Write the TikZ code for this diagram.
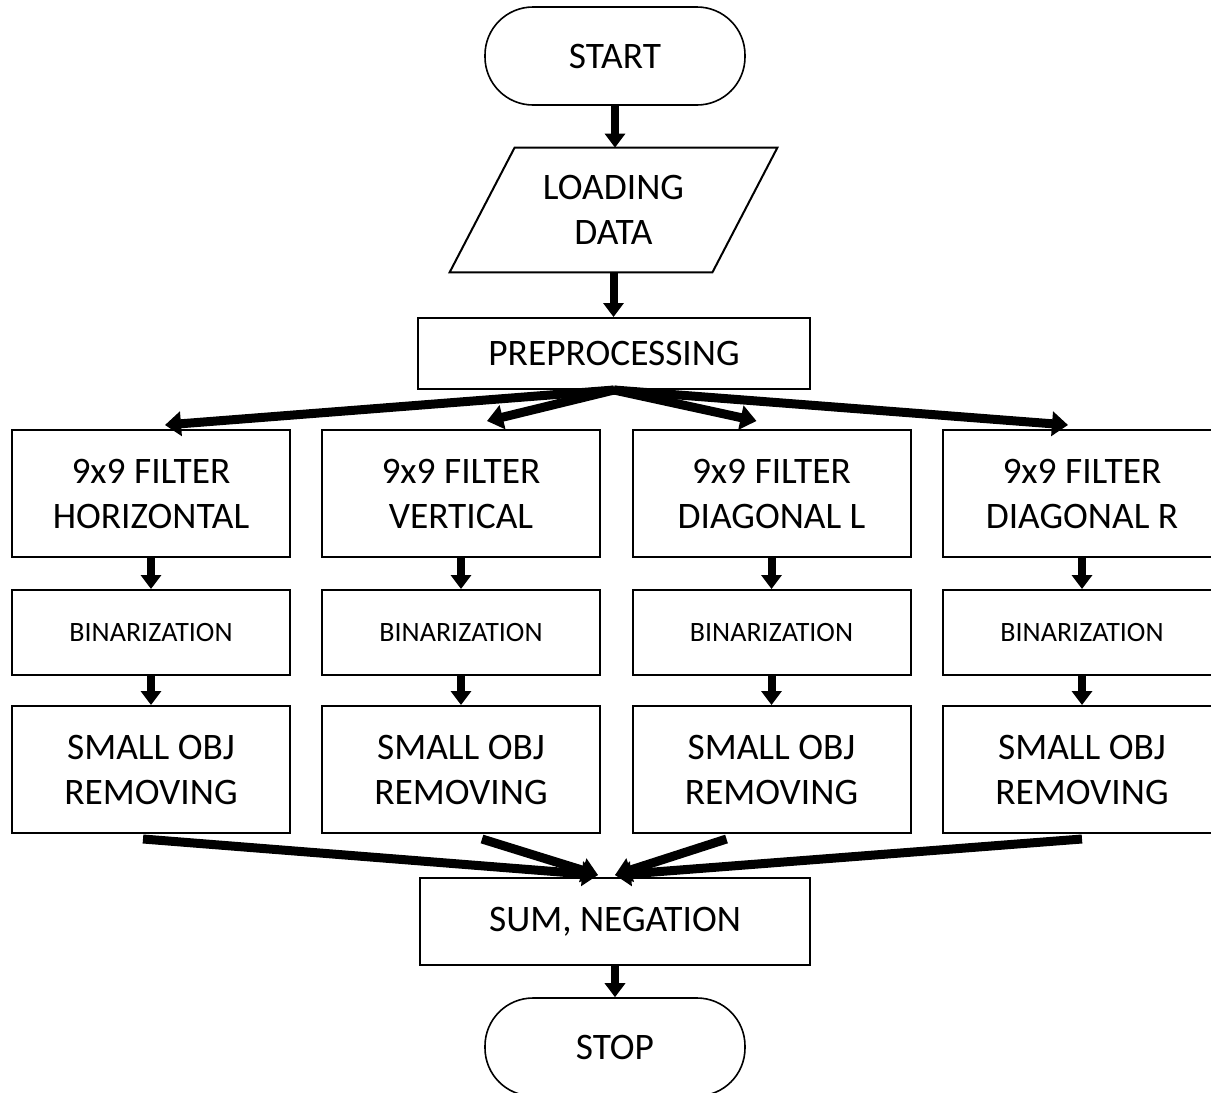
\documentclass[tikz,border=0pt]{standalone}
\usepackage{fontspec}
\setmainfont{Carlito}
\usetikzlibrary{arrows.meta}
\usetikzlibrary{calc}

\begin{document}
\begin{tikzpicture}[x=0.5pt,y=-0.5pt,
		box/.style={draw, line width=1pt, minimum width=139pt, minimum height=63.5pt, inner sep=0pt, align=center, font=\fontsize{18.7}{22.5}\selectfont},
		smallbox/.style={box, minimum height=42.5pt, font=\fontsize{14}{16}\selectfont},
		term/.style={draw, line width=0.8pt, rounded corners=24pt, minimum width=130pt, minimum height=49pt, font=\fontsize{18.7}{22.5}\selectfont},
		flow/.style={line width=4pt, -{Triangle[length=7pt,width=10pt]}},
		fan/.style={line width=4.5pt, -{Triangle[length=8pt,width=12pt]}}]
		\useasboundingbox (0,0) rectangle (1211,1093);

		% main line
		\node[term] (start) at (615,56) {START};
		\node[minimum width=131pt, minimum height=62pt, align=center, inner sep=0pt, font=\fontsize{18.7}{22.5}\selectfont] (load) at (613.5,210) {LOADING\\DATA};
		\draw[line width=1pt] ($(load.south west)+(-32.5,0)$) -- ($(load.north west)+(32.5,0)$) -- ($(load.north east)+(32.5,0)$) -- ($(load.south east)+(-32.5,0)$) -- cycle;
		\node[box, minimum width=196pt, minimum height=35.5pt] (pre) at (614,353.5) {PREPROCESSING};
		\node[box, minimum width=195pt, minimum height=43.5pt] (sum) at (615,921.5) {SUM, NEGATION};
		\node[term] (stop) at (615,1047) {STOP};

		\draw[flow] (start.south) -- (start.south |- load.north);
		\draw[flow] (load.south) -- (load.south |- pre.north);
		\draw[flow] (sum.south) -- (stop.north);

		% four filter branches
		\foreach \i/\x/\dir in {1/151/HORIZONTAL, 2/461/VERTICAL, 3/771.5/DIAGONAL L, 4/1082/DIAGONAL R} {
			\node[box] (f\i) at (\x,493.5) {9x9 FILTER\\\dir};
			\node[smallbox] (b\i) at (\x,632.5) {BINARIZATION};
			\node[box] (s\i) at (\x,769.5) {SMALL OBJ\\REMOVING};
			\draw[flow] (f\i.south) -- (b\i.north);
			\draw[flow] (b\i.south) -- (s\i.north);
		}

		\draw[fan] (pre.south) -- ($(f1.north)+(14,-4)$);
		\draw[fan] (pre.south) -- ($(f2.north)+(26,-8)$);
		\draw[fan] (pre.south) -- ($(f3.north)+(-15,-8)$);
		\draw[fan] (pre.south) -- ($(f4.north)+(-14,-4)$);

		\draw[fan] ($(s1.south)+(-8,5)$) -- ($(sum.north)+(-17,-2)$);
		\draw[fan] ($(s2.south)+(21,5)$) -- ($(sum.north)+(-17,-2)$);
		\draw[fan] ($(s3.south)+(-45,5)$) -- ($(sum.north)+(0,-2)$);
		\draw[fan] ($(s4.south)+(0,5)$) -- ($(sum.north)+(0,-2)$);
	\end{tikzpicture}
\end{document}
